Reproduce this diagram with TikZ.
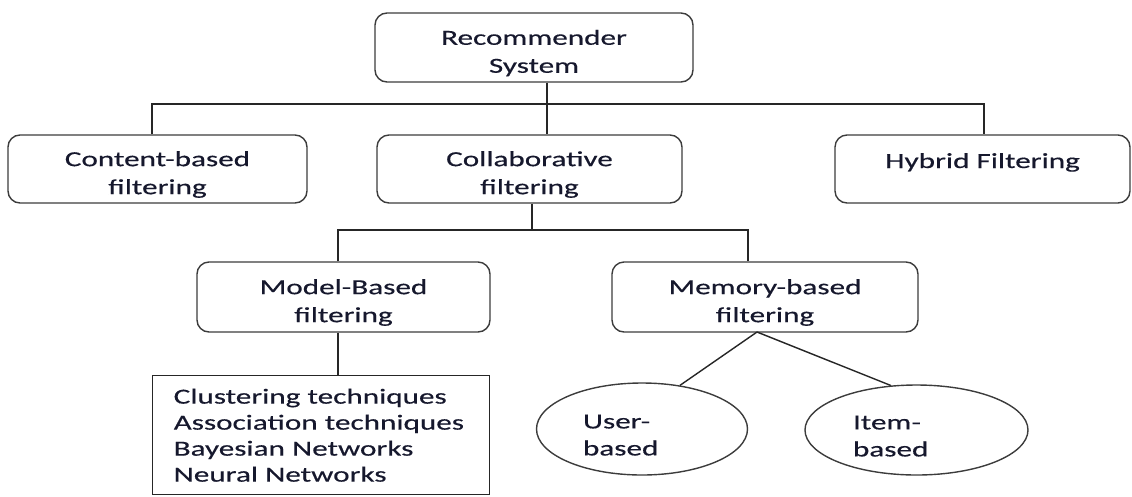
\documentclass[tikz,border=0pt]{standalone}
\usepackage{fontspec}
\setmainfont{Carlito}[FakeStretch=1.45,FakeBold=0.4]
\usetikzlibrary{shapes.geometric}
\definecolor{txt}{RGB}{22,24,45}
\definecolor{edge}{RGB}{60,60,60}
\newcommand{\upstrut}{\rule{0pt}{26pt}}
\begin{document}
\begin{tikzpicture}[x=1pt,y=-1pt,
  box/.style={draw=edge, line width=1.4pt, rounded corners=12pt, align=center, text=txt,
    font=\fontsize{21.5}{28}\selectfont, inner sep=0pt},
  conn/.style={draw=black!85, line width=1.4pt},
  oval/.style={ellipse, draw=edge, line width=1.4pt, align=left, text=txt,
    font=\fontsize{21.5}{27}\selectfont, inner sep=0pt},
  listbox/.style={draw=black!85, line width=1.4pt, align=left, text=txt,
    font=\fontsize{21.5}{26}\selectfont, inner xsep=21pt, inner ysep=13pt}]
\useasboundingbox (0,0) rectangle (1132,496);
% level 0
\node[box, minimum width=318pt, minimum height=69pt] (rec) at (534,47.5) {\upstrut Recommender\\System};
% level 1
\node[box, minimum width=299pt, minimum height=68pt] (content) at (157.5,169) {\upstrut Content-based\\filtering};
\node[box, minimum width=305pt, minimum height=68pt] (collab) at (529.5,169) {\upstrut Collaborative\\filtering};
\node[box, minimum width=295pt, minimum height=68pt] (hybrid) at (982.5,169) {\upstrut Hybrid Filtering\\\mbox{}};
% level 2
\node[box, minimum width=293pt, minimum height=70pt] (model) at (343.5,297) {\upstrut Model-Based\\filtering};
\node[box, minimum width=306pt, minimum height=70pt] (memory) at (765,297) {\upstrut Memory-based\\filtering};
% list
\node[listbox, anchor=north west, text width=295pt] (list) at (152,375)
  {Clustering techniques\\Association techniques\\Bayesian Networks\\Neural Networks};
% ellipses
\node[oval, minimum width=211pt, minimum height=92pt, text width=118pt] (user) at (642,429) {\upstrut User-\\based};
\node[oval, minimum width=223pt, minimum height=90pt, text width=127pt] (item) at (916.5,430) {\upstrut Item-\\based};
% connectors
\coordinate (b0) at (547,104);
\coordinate (bl) at (152,104);
\coordinate (br) at (984,104);
\draw[conn] (rec.south -| b0) -- (collab.north -| b0);
\draw[conn] (content.north -| bl) -- (bl) -- (br) -- (hybrid.north -| br);
\coordinate (c0) at (532,230);
\coordinate (cl) at (338,230);
\coordinate (cr) at (748,230);
\draw[conn] (collab.south -| c0) -- (c0);
\draw[conn] (model.north -| cl) -- (cl) -- (cr) -- (memory.north -| cr);
\draw[conn] (model.south -| cl) -- (list.north -| cl);
\coordinate (m0) at (757,332);
\draw[conn] (m0) -- (user.49);
\draw[conn] (m0) -- (item.120);
\end{tikzpicture}
\end{document}
